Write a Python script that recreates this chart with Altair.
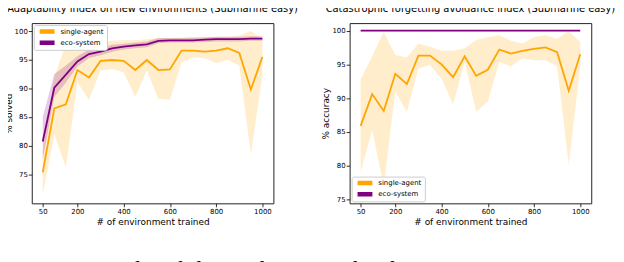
import altair as alt
import pandas as pd

x_env = [50, 100, 150, 200, 250, 300, 350, 400, 450, 500,
         550, 600, 650, 700, 750, 800, 850, 900, 950, 1000]

series_names = ["single-agent", "eco-system"]
series_colors = ["#FFA500", "#800080"]

# Panel 1: Adaptability index on new environments (% solved)
adapt_single_mean = [75.3, 86.5, 87.2, 93.2, 91.9, 94.8, 94.95, 94.8, 93.2, 94.95,
                     93.2, 93.3, 96.6, 96.6, 96.4, 96.6, 97.0, 96.2, 89.8, 95.5]
adapt_single_lo = [71.3, 82.0, 76.2, 91.0, 88.0, 93.1, 93.4, 92.8, 88.5, 93.1,
                   88.2, 88.0, 94.5, 95.4, 95.3, 94.4, 95.0, 94.0, 78.5, 92.3]
adapt_single_hi = [79.0, 92.0, 97.7, 96.6, 97.1, 98.0, 98.3, 98.4, 98.4, 98.6,
                   98.8, 98.8, 98.9, 98.9, 99.0, 99.0, 99.0, 99.2, 100.0, 98.6]
adapt_eco_mean = [80.7, 90.1, 92.4, 94.7, 96.0, 96.4, 97.0, 97.3, 97.5, 97.7,
                  98.3, 98.4, 98.4, 98.4, 98.5, 98.6, 98.6, 98.6, 98.7, 98.7]
adapt_eco_lo = [77.5, 88.5, 91.0, 93.8, 95.3, 95.8, 96.4, 96.8, 97.0, 97.2,
                97.9, 98.0, 98.0, 98.0, 98.1, 98.2, 98.2, 98.2, 98.3, 98.3]
adapt_eco_hi = [85.0, 92.5, 94.0, 95.6, 96.8, 97.1, 97.6, 97.8, 98.0, 98.2,
                98.8, 98.8, 98.8, 98.9, 98.9, 99.0, 99.0, 99.0, 99.1, 99.1]

# Panel 2: Catastrophic forgetting avoidance index (% accuracy)
forget_single_mean = [85.9, 90.6, 88.1, 93.6, 92.1, 96.3, 96.3, 95.0, 93.1, 96.2,
                      93.3, 94.2, 97.2, 96.6, 97.0, 97.3, 97.5, 96.8, 91.1, 96.5]
forget_single_lo = [79.1, 85.3, 77.0, 91.0, 88.0, 94.4, 94.9, 92.9, 89.1, 95.4,
                    88.0, 89.5, 95.4, 94.7, 95.9, 95.6, 95.6, 94.7, 80.2, 94.7]
forget_single_hi = [92.8, 96.2, 99.8, 96.4, 96.0, 98.1, 97.6, 97.0, 97.0, 97.4,
                    98.6, 99.0, 99.3, 98.5, 98.1, 99.0, 99.3, 98.8, 99.9, 98.3]
forget_eco_mean = [100.0, 100.0, 100.0, 100.0, 100.0, 100.0, 100.0, 100.0, 100.0, 100.0,
                   100.0, 100.0, 100.0, 100.0, 100.0, 100.0, 100.0, 100.0, 100.0, 100.0]

x_ticks = [50, 200, 400, 600, 800, 1000]
y_ticks = [75, 80, 85, 90, 95, 100]

titles = ["Adaptability index on new environments (Submarine easy)",
          "Catastrophic forgetting avoidance index (Submarine easy)"]
y_titles = ["% solved", "% accuracy"]
x_title = "# of environment trained"
caption = "Figure 4: Adaptability and catastrophic forgetting using DDQN"


def make_df(s_mean, s_lo, s_hi, e_mean, e_lo, e_hi):
    rows = []
    for i, xv in enumerate(x_env):
        rows.append({"x": xv, "series": series_names[0], "mean": s_mean[i], "lo": s_lo[i], "hi": s_hi[i]})
    for i, xv in enumerate(x_env):
        rows.append({"x": xv, "series": series_names[1], "mean": e_mean[i], "lo": e_lo[i], "hi": e_hi[i]})
    return pd.DataFrame(rows)


df_adapt = make_df(adapt_single_mean, adapt_single_lo, adapt_single_hi,
                   adapt_eco_mean, adapt_eco_lo, adapt_eco_hi)
df_forget = make_df(forget_single_mean, forget_single_lo, forget_single_hi,
                    forget_eco_mean, forget_eco_mean, forget_eco_mean)


def panel(df, title, ytitle, ydomain, legend_orient):
    xs = alt.Scale(domain=[2.5, 1047.5], nice=False, zero=False)
    ys = alt.Scale(domain=ydomain, nice=False, zero=False)
    xax = alt.Axis(values=x_ticks, title=x_title, format="d")
    yax = alt.Axis(values=y_ticks, title=ytitle, format="d", titlePadding=1)
    cscale = alt.Scale(domain=series_names, range=series_colors)
    band = alt.Chart(df).mark_area(opacity=0.2, interpolate="linear").encode(
        x=alt.X("x:Q", scale=xs, axis=xax),
        y=alt.Y("lo:Q", scale=ys, axis=yax),
        y2="hi:Q",
        color=alt.Color("series:N", scale=cscale, legend=None),
    )
    line = alt.Chart(df).mark_line(strokeWidth=1.8).encode(
        x=alt.X("x:Q", scale=xs, axis=xax),
        y=alt.Y("mean:Q", scale=ys, axis=yax),
        color=alt.Color("series:N", scale=cscale, legend=alt.Legend(
            title=None, orient=legend_orient, offset=2, padding=3,
            fillColor="white", strokeColor="#cccccc", cornerRadius=2,
            symbolType="M-2.5,0H2.5", symbolStrokeWidth=4.5, symbolSize=36,
            symbolOffset=5, labelOffset=8, clipHeight=7,
            labelFontSize=7, labelFont="DejaVu Sans", labelColor="black",
            rowPadding=3.3)),
    )
    return alt.layer(band, line).resolve_legend(color="independent").properties(
        width=244, height=182,
        title=alt.TitleParams(title, fontSize=10, font="DejaVu Sans", fontWeight="normal", color="black", offset=9),
    )


left = panel(df_adapt, titles[0], y_titles[0], [69.9, 101.4], "top-left")
right = panel(df_forget, titles[1], y_titles[1], [74.45, 101.1], "bottom-left")

chart = alt.hconcat(left, right, spacing=77, bounds="flush",
                    title=alt.TitleParams(caption, orient="bottom", anchor="start", frame="bounds",
                                          font="Liberation Serif", fontSize=23, fontWeight="normal",
                                          color="black", offset=32, dx=22)).properties(
    padding={"left": -5, "top": -6, "right": 0, "bottom": -19},
).configure_view(stroke="#222222", strokeWidth=1).configure_axis(
    domain=False, grid=False, tickColor="black", tickSize=3.5, tickWidth=0.8,
    labelFontSize=7, labelFont="DejaVu Sans", labelColor="black", labelPadding=1,
    titleFontSize=9, titleFont="DejaVu Sans", titleFontWeight="normal", titleColor="black",
    titlePadding=3,
)

chart.save("out.html", embed_options={"renderer": "svg", "actions": False})
